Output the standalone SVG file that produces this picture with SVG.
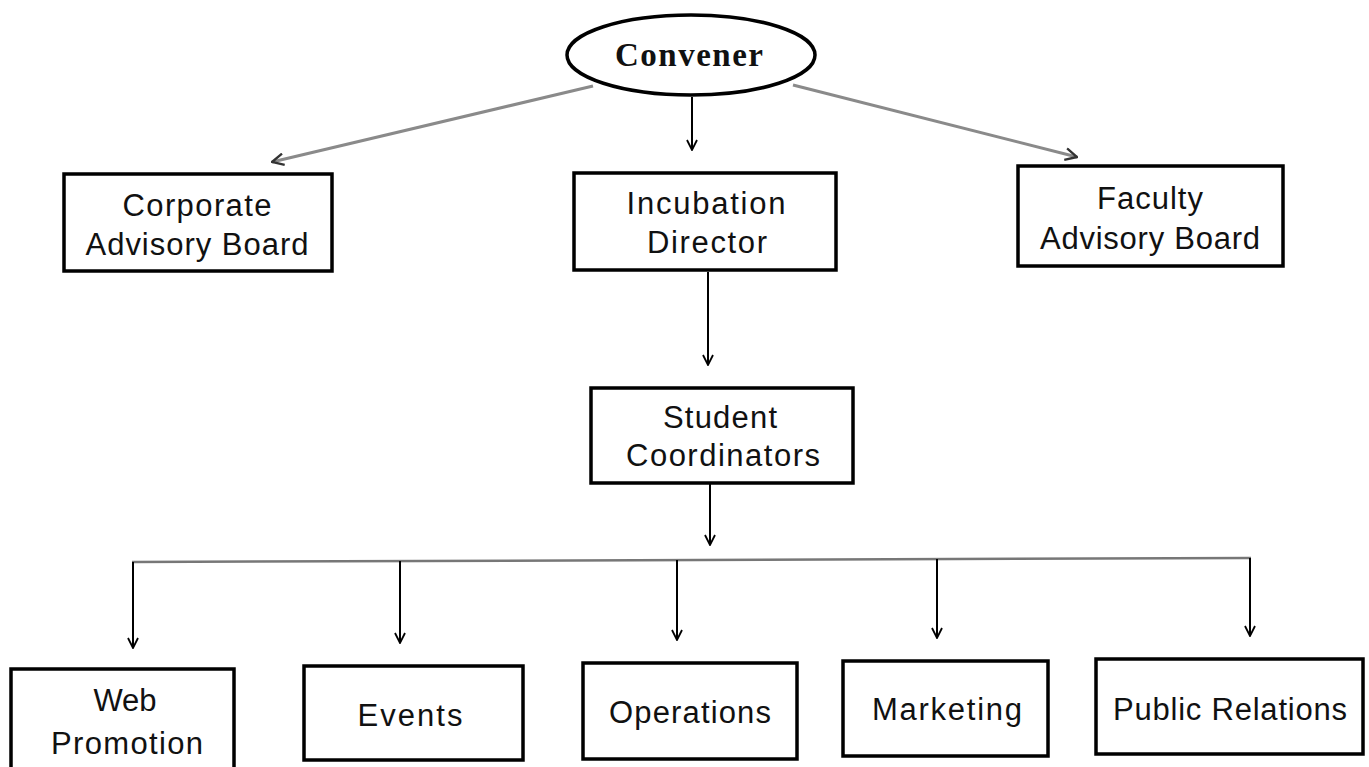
<svg xmlns="http://www.w3.org/2000/svg" width="1369" height="767" viewBox="0 0 1369 767">
<style>
.box{fill:#fff;stroke:#000;stroke-width:3.5}
.lbl{font-family:"Liberation Sans",Arial,sans-serif;font-size:31px;fill:#111;text-anchor:middle}
.conv{font-family:"Liberation Serif","Times New Roman",serif;font-size:33px;font-weight:bold;fill:#111;text-anchor:middle}
.c{stroke:#000;stroke-width:2;fill:none}
.g{stroke:#8a8a8a;stroke-width:3;fill:none}
</style>
<defs>
<marker id="ah" viewBox="0 0 12 12" refX="11" refY="6" markerWidth="12" markerHeight="12" markerUnits="userSpaceOnUse" orient="auto">
<path d="M1,1 L11,6 L1,11" fill="none" stroke="#000" stroke-width="1.8"/>
</marker>
<marker id="ahg" viewBox="0 0 12 12" refX="11" refY="6" markerWidth="14" markerHeight="14" markerUnits="userSpaceOnUse" orient="auto">
<path d="M1,1 L11,6 L1,11" fill="none" stroke="#333" stroke-width="2"/>
</marker>
</defs>
<rect width="1369" height="767" fill="#fff"/>
<g id="connectors">
<line class="g" x1="593" y1="86" x2="272" y2="162" marker-end="url(#ahg)"/>
<line class="g" x1="793" y1="85" x2="1077" y2="157" marker-end="url(#ahg)"/>
<line class="c" x1="692" y1="97" x2="692" y2="150" marker-end="url(#ah)"/>
<line class="c" x1="708" y1="272" x2="708" y2="365" marker-end="url(#ah)"/>
<line class="c" x1="710" y1="483" x2="710" y2="545" marker-end="url(#ah)"/>
<line class="g" x1="132" y1="562" x2="1251" y2="558" style="stroke:#777;stroke-width:2.5"/>
<line class="c" x1="133" y1="562" x2="133" y2="648" marker-end="url(#ah)"/>
<line class="c" x1="400" y1="561" x2="400" y2="643" marker-end="url(#ah)"/>
<line class="c" x1="677" y1="560" x2="677" y2="640" marker-end="url(#ah)"/>
<line class="c" x1="937" y1="559" x2="937" y2="638" marker-end="url(#ah)"/>
<line class="c" x1="1250" y1="558" x2="1250" y2="636" marker-end="url(#ah)"/>
</g>
<g id="convener">
<ellipse cx="691" cy="55" rx="124" ry="40" fill="#fff" stroke="#000" stroke-width="3.5"/>
<text class="conv" x="689" y="66" textLength="148">Convener</text>
</g>
<g id="corporate">
<rect class="box" x="64" y="174" width="268" height="97"/>
<text class="lbl" x="197" y="216" textLength="149">Corporate</text>
<text class="lbl" x="197" y="255" textLength="223">Advisory Board</text>
</g>
<g id="incubation">
<rect class="box" x="574" y="173" width="262" height="97"/>
<text class="lbl" x="706" y="214" textLength="159">Incubation</text>
<text class="lbl" x="707" y="253" textLength="120">Director</text>
</g>
<g id="faculty">
<rect class="box" x="1018" y="166" width="265" height="100"/>
<text class="lbl" x="1150" y="209" textLength="106">Faculty</text>
<text class="lbl" x="1150" y="249" textLength="220">Advisory Board</text>
</g>
<g id="student">
<rect class="box" x="591" y="388" width="262" height="95"/>
<text class="lbl" x="720" y="428" textLength="114">Student</text>
<text class="lbl" x="723" y="466" textLength="194">Coordinators</text>
</g>
<g id="web">
<rect class="box" x="11" y="669" width="223" height="104"/>
<text class="lbl" x="125" y="711" textLength="63">Web</text>
<text class="lbl" x="127" y="754" textLength="152">Promotion</text>
</g>
<g id="events">
<rect class="box" x="304" y="666" width="219" height="94"/>
<text class="lbl" x="410" y="726" textLength="105">Events</text>
</g>
<g id="operations">
<rect class="box" x="583" y="663" width="214" height="96"/>
<text class="lbl" x="690" y="723" textLength="162">Operations</text>
</g>
<g id="marketing">
<rect class="box" x="843" y="661" width="205" height="95"/>
<text class="lbl" x="947" y="720" textLength="150">Marketing</text>
</g>
<g id="public">
<rect class="box" x="1096" y="659" width="267" height="95"/>
<text class="lbl" x="1230" y="720" textLength="234">Public Relations</text>
</g>
</svg>
